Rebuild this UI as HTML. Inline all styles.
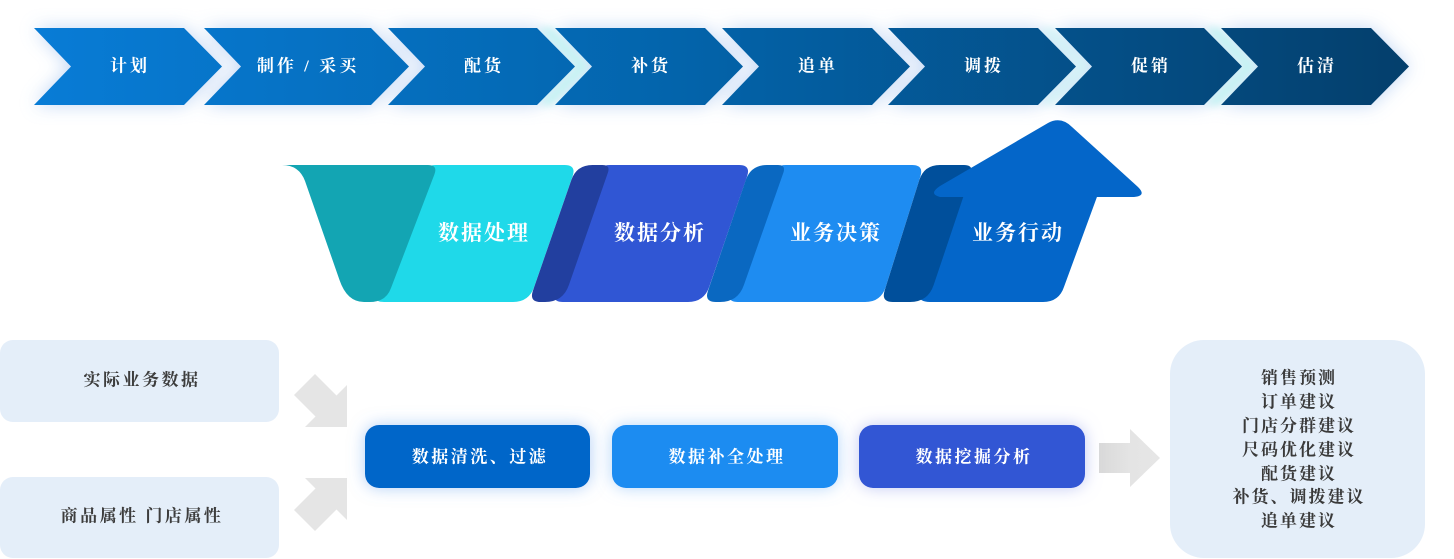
<!DOCTYPE html>
<html>
<head>
<meta charset="utf-8">
<style>
  html,body{margin:0;padding:0;background:#ffffff;}
  body{width:1454px;height:559px;overflow:hidden;}
  svg{display:block;}
  text{font-family:"Liberation Serif","Noto Serif CJK SC",serif;font-weight:700;}
</style>
</head>
<body>
<svg width="1454" height="559" viewBox="0 0 1454 559" xmlns="http://www.w3.org/2000/svg">
  <defs>
    <linearGradient id="chev" gradientUnits="userSpaceOnUse" x1="34" y1="0" x2="1410" y2="0">
      <stop offset="0" stop-color="#087cd6"/>
      <stop offset="0.45" stop-color="#0365ad"/>
      <stop offset="1" stop-color="#043f6c"/>
    </linearGradient>
    <linearGradient id="garr" gradientUnits="userSpaceOnUse" x1="1099" y1="0" x2="1160" y2="0">
      <stop offset="0" stop-color="#d9d9d9"/>
      <stop offset="0.5" stop-color="#e4e4e4"/>
      <stop offset="1" stop-color="#e6e6e6"/>
    </linearGradient>
    <filter id="blur8" x="-20%" y="-100%" width="140%" height="300%">
      <feGaussianBlur stdDeviation="9"/>
    </filter>
    <filter id="blur4" x="-50%" y="-50%" width="200%" height="200%">
      <feGaussianBlur stdDeviation="4"/>
    </filter>
    <filter id="glowA" x="-30%" y="-60%" width="160%" height="220%">
      <feDropShadow dx="0" dy="0" stdDeviation="8" flood-color="#6fa8ee" flood-opacity="0.55"/>
    </filter>
    <filter id="glowB" x="-30%" y="-60%" width="160%" height="220%">
      <feDropShadow dx="0" dy="0" stdDeviation="8" flood-color="#7ab6f5" flood-opacity="0.55"/>
    </filter>
    <filter id="glowC" x="-30%" y="-60%" width="160%" height="220%">
      <feDropShadow dx="0" dy="0" stdDeviation="8" flood-color="#9aa6ec" flood-opacity="0.6"/>
    </filter>
  </defs>

  <!-- ===== Top chevron glow ===== -->
  <g filter="url(#blur8)" fill="#bcd3f4" opacity="0.9">
    <polygon points="34,28 184,28 222,66.5 184,105 34,105 71,66.5"/>
    <polygon points="204,28 371,28 409,66.5 371,105 204,105 241,66.5"/>
    <polygon points="388,28 537,28 575,66.5 537,105 388,105 425,66.5"/>
    <polygon points="555,28 705,28 743,66.5 705,105 555,105 592,66.5"/>
    <polygon points="722,28 872,28 910,66.5 872,105 722,105 759,66.5"/>
    <polygon points="888,28 1038,28 1076,66.5 1038,105 888,105 925,66.5"/>
    <polygon points="1055,28 1204,28 1242,66.5 1204,105 1055,105 1092,66.5"/>
    <polygon points="1221,28 1371,28 1409,66.5 1371,105 1221,105 1258,66.5"/>
  </g>
  <g filter="url(#blur4)" fill="#c4f3f3">
    <polygon points="538,28 552,28 590,66.5 552,105 538,105 576,66.5"/>
    <polygon points="1205,28 1219,28 1257,66.5 1219,105 1205,105 1243,66.5"/>
    <polygon points="1039,28 1053,28 1091,66.5 1053,105 1039,105 1077,66.5" opacity="0.6"/>
  </g>

  <!-- ===== Top chevrons ===== -->
  <g fill="url(#chev)">
    <polygon points="34,28 184,28 222,66.5 184,105 34,105 71,66.5"/>
    <polygon points="204,28 371,28 409,66.5 371,105 204,105 241,66.5"/>
    <polygon points="388,28 537,28 575,66.5 537,105 388,105 425,66.5"/>
    <polygon points="555,28 705,28 743,66.5 705,105 555,105 592,66.5"/>
    <polygon points="722,28 872,28 910,66.5 872,105 722,105 759,66.5"/>
    <polygon points="888,28 1038,28 1076,66.5 1038,105 888,105 925,66.5"/>
    <polygon points="1055,28 1204,28 1242,66.5 1204,105 1055,105 1092,66.5"/>
    <polygon points="1221,28 1371,28 1409,66.5 1371,105 1221,105 1258,66.5"/>
  </g>
  <g fill="#ffffff" font-size="17" letter-spacing="3" text-anchor="middle" dominant-baseline="central">
    <text x="130" y="66">计划</text>
    <text x="308" y="66">制作 / 采买</text>
    <text x="484" y="66">配货</text>
    <text x="651" y="66">补货</text>
    <text x="818" y="66">追单</text>
    <text x="984" y="66">调拨</text>
    <text x="1151" y="66">促销</text>
    <text x="1317" y="66">估清</text>
  </g>

  <!-- ===== Middle ribbon ===== -->
  <!-- cyan face (under teal) -->
  <path fill="#1fd9e9" d="M436,165 L564.5,165 Q576.5,165 572.6,176.3 L534.2,286.9 Q529,302 513,302 L384,302 Q372,302 376,290.8 L419.7,176.2 Q424,165 436,165 Z"/>
  <!-- teal funnel -->
  <path fill="#13a5b3" d="M282,165 L428,165 Q438,165 434.4,174.4 L391,288 Q386,302 370,302 L364,302 Q347,302 339.5,280 L305,181 Q299,165 282,165 Z"/>
  <!-- blue face -->
  <path fill="#3056d4" d="M610,165 L739,165 Q751,165 747.1,176.3 L709.2,286.9 Q704,302 688,302 L563,302 Q551,302 555,290.7 L594.6,176.3 Q598.5,165 610,165 Z"/>
  <!-- dark blue fold -->
  <path fill="#223f9f" d="M592.5,165 L602.5,165 Q610.5,165 607.9,172.6 L568.9,285 Q563,302 545,302 L541,302 Q529,302 532.9,290.7 L571.3,180.1 Q576.5,165 592.5,165 Z"/>
  <!-- light blue face -->
  <path fill="#1e8cf1" d="M786,165 L912,165 Q924,165 920.4,176.4 L885.8,286.7 Q881,302 865,302 L738,302 Q726,302 730,290.7 L770,176.3 Q774,165 786,165 Z"/>
  <!-- mid fold -->
  <path fill="#0a68c1" d="M767,165 L778,165 Q786,165 783.4,172.6 L743.9,285 Q738,302 720,302 L716,302 Q704,302 708,290.7 L745.7,180.1 Q751,165 767,165 Z"/>
  <!-- arrow shaft (under navy fold) -->
  <path fill="#0466c9" d="M953,190 L1099.5,190 L1064,286.9 Q1059,302 1043,302 L930,302 Q916,302 920,290.7 Z"/>
  <!-- navy fold -->
  <path fill="#004f9b" d="M940,165 L964,165 Q974,165 970.8,174.5 L933.7,284.9 Q928,302 910,302 L893,302 Q881,302 884.6,290.6 L919.2,180.3 Q924,165 940,165 Z"/>
  <!-- arrow head (over fold) -->
  <path fill="#0466c9" d="M940,197 L1134,197 Q1147,196 1138,187 L1072,127 Q1061,116 1048,123 L940,186 Q928,194 940,197 Z"/>

  <g fill="#ffffff" font-size="21" letter-spacing="2" text-anchor="middle" dominant-baseline="central">
    <text x="484" y="233">数据处理</text>
    <text x="660" y="233">数据分析</text>
    <text x="836" y="233">业务决策</text>
    <text x="1018" y="233">业务行动</text>
  </g>

  <!-- ===== Bottom section ===== -->
  <rect x="0" y="340" width="279" height="82" rx="13" fill="#e4eef9"/>
  <rect x="0" y="477" width="279" height="81" rx="13" fill="#e4eef9"/>
  <g fill="#3d3d3d" font-size="17" letter-spacing="2.5" text-anchor="middle" dominant-baseline="central">
    <text x="142" y="380">实际业务数据</text>
    <text x="142" y="516">商品属性 门店属性</text>
  </g>

  <!-- gray arrows -->
  <polygon fill="#e5e5e5" points="315,374 336.5,395.5 347,385 347,427 305,427 315.5,416.5 294,395"/>
  <polygon fill="#e5e5e5" points="315,531 336.5,509.5 347,520 347,478 305,478 315.5,488.5 294,510"/>
  <polygon fill="url(#garr)" points="1099,443 1130,443 1130,429 1160,458 1130,487 1130,473 1099,473"/>

  <!-- center process boxes -->
  <rect x="365" y="425" width="225" height="63" rx="14" fill="#0466c9" filter="url(#glowA)"/>
  <rect x="612" y="425" width="226" height="63" rx="14" fill="#1e8cf1" filter="url(#glowB)"/>
  <rect x="859" y="425" width="226" height="63" rx="14" fill="#3056d4" filter="url(#glowC)"/>
  <g fill="#ffffff" font-size="17" letter-spacing="2.5" text-anchor="middle" dominant-baseline="central">
    <text x="480" y="457">数据清洗、过滤</text>
    <text x="727" y="457">数据补全处理</text>
    <text x="974" y="457">数据挖掘分析</text>
  </g>

  <!-- right result box -->
  <rect x="1170" y="340" width="255" height="218" rx="34" fill="#e4eef9"/>
  <g fill="#3a3a3a" font-size="17" letter-spacing="2" text-anchor="middle" dominant-baseline="central">
    <text x="1299" y="378">销售预测</text>
    <text x="1299" y="402">订单建议</text>
    <text x="1299" y="426">门店分群建议</text>
    <text x="1299" y="450">尺码优化建议</text>
    <text x="1299" y="474">配货建议</text>
    <text x="1299" y="497">补货、调拨建议</text>
    <text x="1299" y="521">追单建议</text>
  </g>
</svg>
</body>
</html>
